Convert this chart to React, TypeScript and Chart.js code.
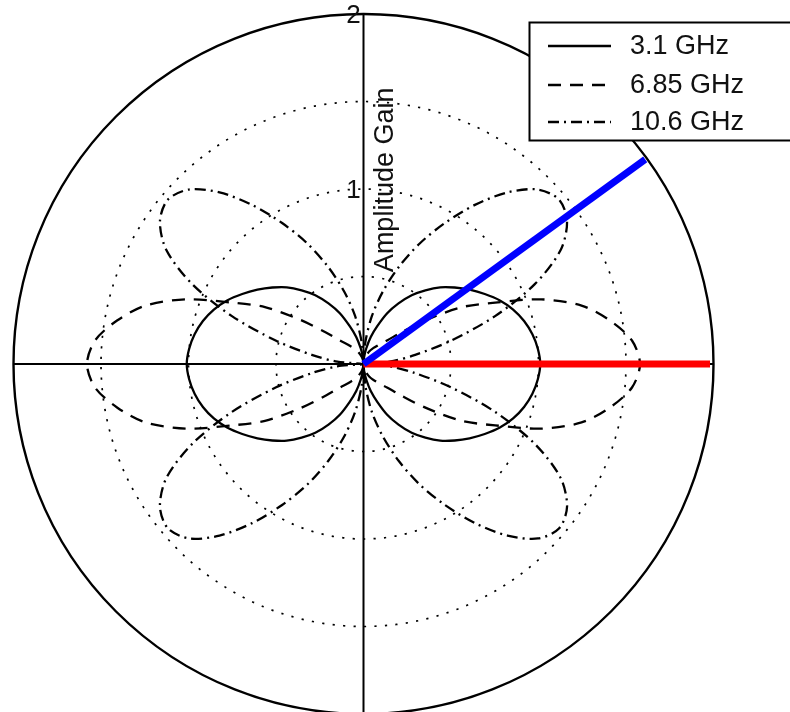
import { useEffect, useRef } from "react";
import { Chart, registerables } from "chart.js";

Chart.register(...registerables);

// Radiation pattern samples for one quadrant, measured from the horizontal axis.
// The patterns are symmetric about both axes, so the quadrant is mirrored.
const angleDeg = [0, 5, 10, 15, 20, 25, 30, 35, 40, 45, 50, 55, 60, 65, 70, 75, 80, 85, 90];
const gain31 = [1.01, 1.0, 0.98, 0.95, 0.91, 0.86, 0.8, 0.74, 0.68, 0.62, 0.55, 0.48, 0.4, 0.32, 0.23, 0.16, 0.09, 0.04, 0.0];
const gain685 = [1.58, 1.54, 1.43, 1.29, 1.08, 0.83, 0.65, 0.44, 0.28, 0.19, 0.15, 0.12, 0.1, 0.08, 0.06, 0.045, 0.03, 0.015, 0.0];
const gain106 = [0.0, 0.15, 0.3, 0.52, 0.8, 1.08, 1.3, 1.42, 1.46, 1.41, 1.28, 1.11, 0.93, 0.76, 0.59, 0.43, 0.28, 0.13, 0.0];

const seriesLabels = ["3.1 GHz", "6.85 GHz", "10.6 GHz"];
const radialTicks = [1, 2];
const dottedRings = [0.5, 1, 1.5];
const outerRing = 2;
const axisTitle = "Amplitude Gain";

// Direction markers (angle in degrees, length in gain units)
const blueMarker = { angle: 36, length: 1.99 };
const redMarker = { angle: 0, length: 1.98 };

// Plot geometry
const W = 790;
const H = 712;
const PX_PER_UNIT = 175;
const CENTER_X = 363.5;
const CENTER_Y = 364;

const FONT = '"Liberation Sans", Arial, Helvetica, sans-serif';

type Pt = { x: number; y: number };

// Walk the full circle starting at 90° so the loop closes at the origin.
function mirrorQuadrant(r: number[]): Pt[] {
  const n = r.length - 1;
  const step = angleDeg[1] - angleDeg[0];
  const pts: Pt[] = [];
  for (let j = n; j <= 5 * n; j++) {
    const m = j % (2 * n);
    const idx = m <= n ? m : 2 * n - m;
    const phi = ((j * step) * Math.PI) / 180;
    pts.push({ x: r[idx] * Math.cos(phi), y: r[idx] * Math.sin(phi) });
  }
  return pts;
}

function markerLine(m: { angle: number; length: number }): Pt[] {
  const a = (m.angle * Math.PI) / 180;
  return [
    { x: 0, y: 0 },
    { x: m.length * Math.cos(a), y: m.length * Math.sin(a) },
  ];
}

const polarGrid = {
  id: "polarGrid",
  beforeDatasetsDraw(chart: any) {
    const { ctx } = chart;
    const xs = chart.scales.x;
    const ys = chart.scales.y;
    const cx = xs.getPixelForValue(0);
    const cy = ys.getPixelForValue(0);
    const unit = xs.getPixelForValue(1) - cx;
    ctx.save();
    ctx.strokeStyle = "#000";
    ctx.lineCap = "butt";
    ctx.lineWidth = 1.7;
    ctx.setLineDash([2.2, 8.3]);
    for (const r of dottedRings) {
      ctx.beginPath();
      ctx.arc(cx, cy, r * unit, 0, Math.PI * 2);
      ctx.stroke();
    }
    ctx.setLineDash([]);
    ctx.lineWidth = 2.4;
    ctx.beginPath();
    ctx.arc(cx, cy, outerRing * unit, 0, Math.PI * 2);
    ctx.stroke();
    ctx.lineWidth = 2;
    ctx.beginPath();
    ctx.moveTo(xs.getPixelForValue(-outerRing), cy);
    ctx.lineTo(xs.getPixelForValue(outerRing), cy);
    ctx.moveTo(cx, ys.getPixelForValue(outerRing));
    ctx.lineTo(cx, ys.getPixelForValue(-outerRing));
    ctx.stroke();
    ctx.restore();
  },
};

const polarLabels = {
  id: "polarLabels",
  afterDatasetsDraw(chart: any) {
    const { ctx } = chart;
    const xs = chart.scales.x;
    const ys = chart.scales.y;
    const cx = xs.getPixelForValue(0);
    ctx.save();
    ctx.fillStyle = "#111";

    // radial tick labels
    ctx.font = `26px ${FONT}`;
    ctx.textAlign = "center";
    ctx.textBaseline = "middle";
    for (const t of radialTicks) {
      ctx.fillText(String(t), cx - 10, ys.getPixelForValue(t) + 2);
    }

    // rotated axis title
    ctx.font = `27px ${FONT}`;
    ctx.textAlign = "left";
    ctx.textBaseline = "alphabetic";
    ctx.translate(xs.getPixelForValue(0.169), ys.getPixelForValue(0.525));
    ctx.rotate(-Math.PI / 2);
    ctx.fillText(axisTitle, 0, 0);
    ctx.restore();

    // legend box
    ctx.save();
    const left = 529.5;
    const top = 22.5;
    const bottom = 140.5;
    ctx.fillStyle = "#fff";
    ctx.fillRect(left, top, W - left + 10, bottom - top);
    ctx.strokeStyle = "#000";
    ctx.lineWidth = 2;
    ctx.strokeRect(left, top, W - left + 10, bottom - top);
    const rows = [46, 85, 122];
    const entries = chart.data.datasets.filter((d: any) => d.legendEntry);
    entries.forEach((d: any, i: number) => {
      ctx.strokeStyle = d.borderColor;
      ctx.lineWidth = d.borderWidth;
      ctx.setLineDash(d.borderDash || []);
      ctx.beginPath();
      ctx.moveTo(548, rows[i]);
      ctx.lineTo(611, rows[i]);
      ctx.stroke();
      ctx.setLineDash([]);
      ctx.fillStyle = "#111";
      ctx.font = `27px ${FONT}`;
      ctx.textAlign = "left";
      ctx.textBaseline = "middle";
      ctx.fillText(d.label, 630, rows[i] + 1);
    });
    ctx.restore();
  },
};

export default function App() {
  const canvasRef = useRef<HTMLCanvasElement | null>(null);

  useEffect(() => {
    if (!canvasRef.current) return;
    const curveStyle = {
      showLine: true,
      pointRadius: 0,
      borderColor: "#000",
      borderWidth: 2.3,
      tension: 0.3,
      fill: false,
      order: 3,
      legendEntry: true,
    };
    const chart = new Chart(canvasRef.current, {
      type: "scatter",
      data: {
        datasets: [
          {
            label: "marker-blue",
            data: markerLine(blueMarker),
            showLine: true,
            pointRadius: 0,
            borderColor: "#0000ff",
            borderWidth: 7,
            borderCapStyle: "butt",
            order: 1,
          },
          {
            label: "marker-red",
            data: markerLine(redMarker),
            showLine: true,
            pointRadius: 0,
            borderColor: "#ff0000",
            borderWidth: 7,
            borderCapStyle: "butt",
            order: 2,
          },
          { ...curveStyle, label: seriesLabels[0], data: mirrorQuadrant(gain31), borderDash: [] },
          { ...curveStyle, label: seriesLabels[1], data: mirrorQuadrant(gain685), borderDash: [13, 9] },
          { ...curveStyle, label: seriesLabels[2], data: mirrorQuadrant(gain106), borderDash: [11, 5, 2, 5] },
        ] as any,
      },
      options: {
        animation: false,
        responsive: false,
        devicePixelRatio: 1,
        events: [],
        layout: { padding: 0 },
        plugins: {
          legend: { display: false },
          tooltip: { enabled: false },
          title: { display: false },
        },
        scales: {
          x: {
            type: "linear",
            display: false,
            min: -CENTER_X / PX_PER_UNIT,
            max: (W - CENTER_X) / PX_PER_UNIT,
          },
          y: {
            type: "linear",
            display: false,
            min: -(H - CENTER_Y) / PX_PER_UNIT,
            max: CENTER_Y / PX_PER_UNIT,
          },
        },
      },
      plugins: [polarGrid, polarLabels],
    });
    return () => chart.destroy();
  }, []);

  return (
    <div style={{ position: "absolute", left: 0, top: 0, width: W, height: H, background: "#fff" }}>
      <canvas ref={canvasRef} width={W} height={H} style={{ display: "block" }} />
    </div>
  );
}
